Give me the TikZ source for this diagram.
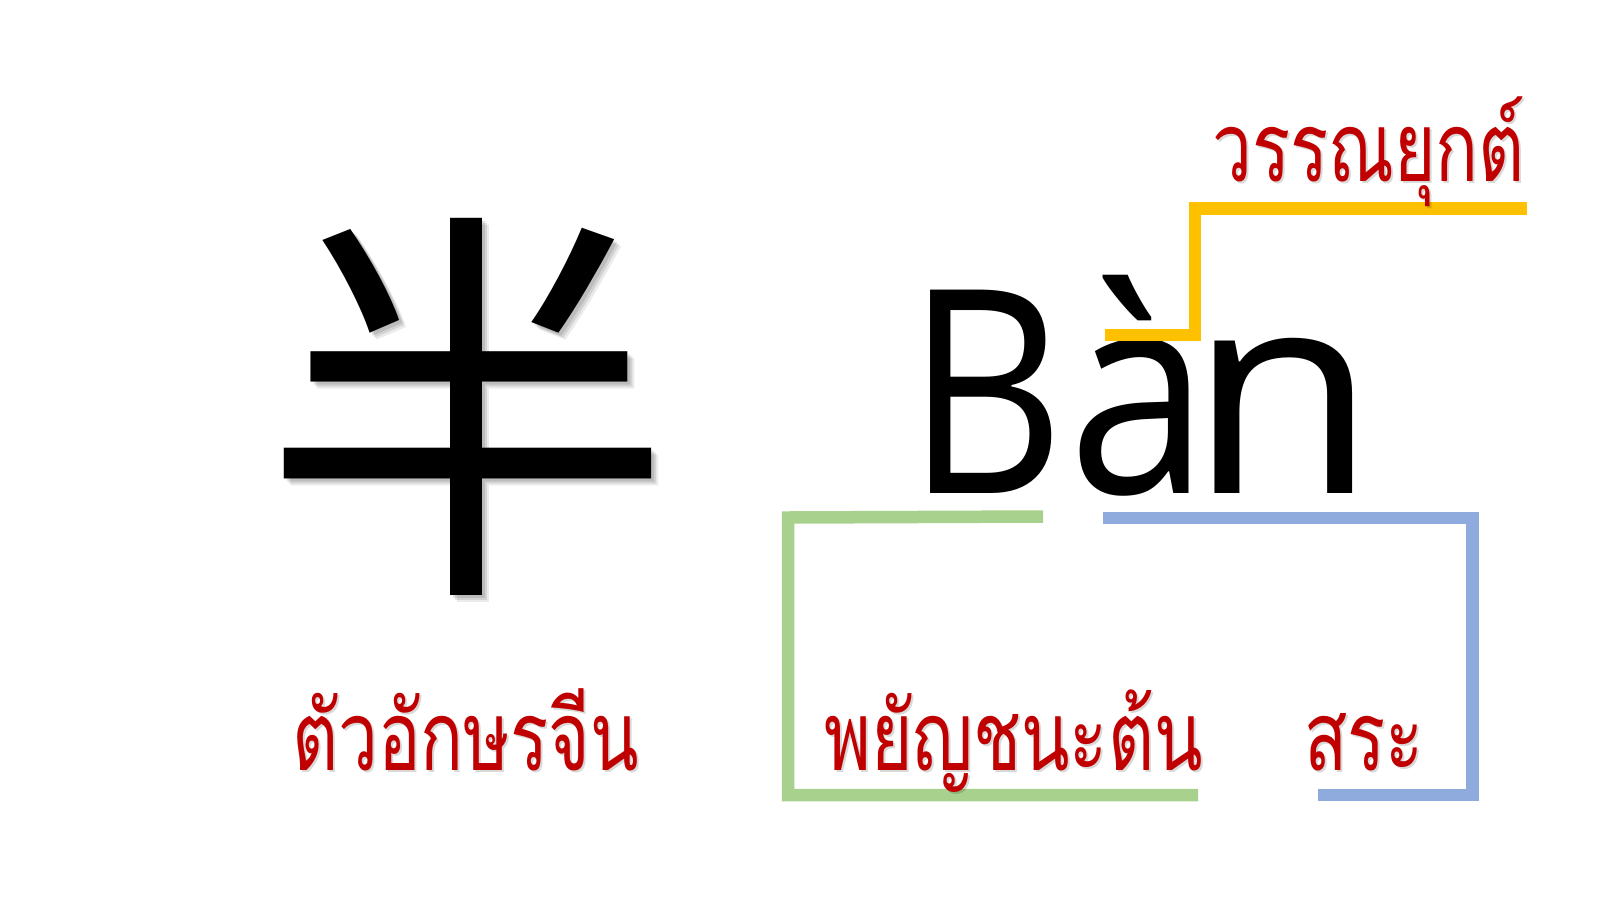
\documentclass[tikz,border=0pt]{standalone}
\usepackage{fontspec}
\setmainfont{Open Sans}
\newfontfamily\pinyinfont[FakeStretch=0.89]{Open Sans}
\newfontfamily\pinyinB[FakeStretch=0.86]{Open Sans}
\newfontfamily\pinyinN[FakeStretch=1.08]{Open Sans}
\newfontfamily\thaifont[Script=Thai, FakeStretch=0.735]{Loma}
\newfontfamily\cjkfont{Noto Sans CJK SC}
\definecolor{thaired}{HTML}{C00000}
\definecolor{tonecol}{HTML}{FFC000}
\definecolor{initcol}{HTML}{A9D18E}
\definecolor{vowelcol}{HTML}{8FAADC}
\tikzset{
  thailabel/.style={font=\thaifont\fontsize{97}{110}\selectfont, text=thaired, inner sep=0pt, anchor=base west},
  thaishadow/.style={font=\thaifont\fontsize{97}{110}\selectfont, text=black, opacity=0.15, inner sep=0pt, anchor=base west},
  hanstyle/.style={font=\cjkfont\fontsize{412}{420}\selectfont, inner sep=0pt},
  bracket/.style={line width=12.5bp, line join=miter, line cap=butt},
}
\begin{document}
\begin{tikzpicture}[x=1bp,y=-1bp]
\useasboundingbox (0,0) rectangle (1621,913);
\fill[white] (0,0) rectangle (1621,913);
% Chinese character with soft shadow
\node[hanstyle, text=black, opacity=0.10] (hanS1) at (471,410) {半};
\node[hanstyle, text=black, opacity=0.10] (hanS2) at (473,412) {半};
\node[hanstyle, text=black, opacity=0.08] (hanS3) at (475,414) {半};
\node[hanstyle] (han) at (468,407) {半};
% pinyin
\node[font=\pinyinfont\fontsize{286}{300}\selectfont, inner sep=0pt, anchor=base west] (pinyin) at (906,493) {{\pinyinB B}\kern4bp à\kern-22bp {\pinyinN n}};
% brackets
\draw[bracket, tonecol] (1105,335) -- (1195,335) -- (1195,208.5) -- (1527,208.5);
\draw[bracket, initcol] (1043,516.5) -- (788,517.5) -- (788,795) -- (1198,795);
\draw[bracket, vowelcol] (1103,518) -- (1472.5,518) -- (1472.5,795) -- (1318,795);
% Thai labels
\node[thaishadow] (toneS) at (1214,183.5) {วรรณยุกต์};
\node[thailabel] (tone) at (1212,181) {วรรณยุกต์};
\node[thaishadow] (hanlabelS) at (294,772.5) {ตัวอักษรจีน};
\node[thailabel] (hanlabel) at (292,770) {ตัวอักษรจีน};
\node[thaishadow] (initS) at (826,772.5) {พยัญชนะต้น};
\node[thailabel] (init) at (824,770) {พยัญชนะต้น};
\node[thaishadow] (vowelS) at (1306,772.5) {สระ};
\node[thailabel] (vowel) at (1304,770) {สระ};
\end{tikzpicture}
\end{document}
